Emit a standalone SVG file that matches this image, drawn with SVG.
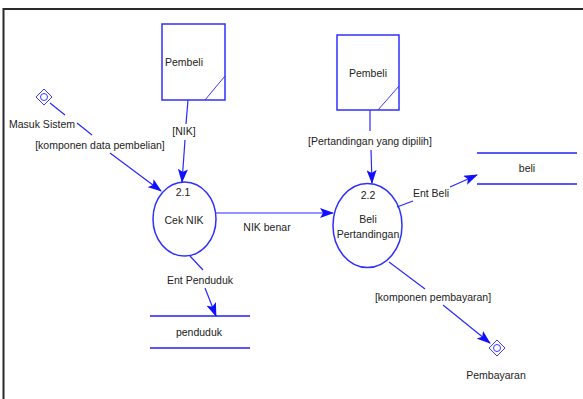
<svg xmlns="http://www.w3.org/2000/svg" width="583" height="399" viewBox="0 0 583 399">
  <style>
    .frame { fill: none; stroke: #2a2a2a; stroke-width: 2; }
    .shape { fill: #ffffff; stroke: #2f2fff; stroke-width: 1.5; }
    .thin { fill: none; stroke: #3a3aff; stroke-width: 1; }
    .flow { fill: none; stroke: #2828ff; stroke-width: 1.2; }
    .store { stroke: #1f1fff; stroke-width: 1.5; }
    text { font-family: "Liberation Sans", Arial, sans-serif; font-size: 10.5px; fill: #222222; text-anchor: middle; }
  </style>
  <defs>
    <marker id="arrow" viewBox="0 0 14 10" refX="13" refY="5" markerWidth="14" markerHeight="10" markerUnits="userSpaceOnUse" orient="auto">
      <path d="M0,0 L14,5 L0,10 L3,5 Z" fill="#1010ff"/>
    </marker>
  </defs>

  <rect width="583" height="399" fill="#ffffff"/>
  <path class="frame" d="M3.5,399 V9 H583"/>

  <!-- external entities -->
  <g id="pembeli-1">
    <rect class="shape" x="162" y="24" width="63" height="76"/>
    <line class="thin" x1="205" y1="100" x2="225" y2="76"/>
    <text x="184" y="66">Pembeli</text>
  </g>
  <g id="pembeli-2">
    <rect class="shape" x="337" y="35" width="62" height="75"/>
    <line class="thin" x1="378" y1="110" x2="399" y2="86"/>
    <text x="368" y="77">Pembeli</text>
  </g>

  <!-- processes -->
  <g id="proc-2-1">
    <ellipse class="shape" cx="184.5" cy="219" rx="31.5" ry="37"/>
    <text x="183" y="196">2.1</text>
    <text x="184" y="224">Cek NIK</text>
  </g>
  <g id="proc-2-2">
    <ellipse class="shape" cx="367.5" cy="225.5" rx="34.5" ry="42"/>
    <text x="368" y="199">2.2</text>
    <text x="368" y="223">Beli</text>
    <text x="368" y="238">Pertandingan</text>
  </g>

  <!-- data stores -->
  <g id="store-penduduk">
    <line class="store" x1="150" y1="316" x2="250" y2="316"/>
    <line class="store" x1="150" y1="348" x2="250" y2="348"/>
    <text x="199" y="336">penduduk</text>
  </g>
  <g id="store-beli">
    <line class="store" x1="477" y1="153" x2="577" y2="153"/>
    <line class="store" x1="477" y1="184" x2="577" y2="184"/>
    <text x="527" y="172">beli</text>
  </g>

  <!-- terminators -->
  <g id="masuk-sistem">
    <path class="thin" d="M44,89 L52,97 L44,105 L36,97 Z"/>
    <circle class="thin" cx="44" cy="97" r="3.5"/>
    <text x="42" y="128">Masuk Sistem</text>
  </g>
  <g id="pembayaran">
    <path class="thin" d="M497,340 L505,348 L497,356 L489,348 Z"/>
    <circle class="thin" cx="497" cy="348" r="3.5"/>
    <text x="496" y="379">Pembayaran</text>
  </g>

  <!-- connectors -->
  <g id="connectors">
    <path class="flow" d="M50,103 L65,115 M77,123 L92,135"/>
    <path class="flow" d="M110,153 L161,191" marker-end="url(#arrow)"/>
    <text x="100" y="149">[komponen data pembelian]</text>

    <path class="flow" d="M188,100 L186,124"/>
    <path class="flow" d="M185,140 L182,182" marker-end="url(#arrow)"/>
    <text x="184" y="135">[NIK]</text>

    <path class="flow" d="M216,213 L333,213" marker-end="url(#arrow)"/>
    <text x="267" y="231">NIK benar</text>

    <path class="flow" d="M190,256 L203,270"/>
    <path class="flow" d="M205,288 L216,316" marker-end="url(#arrow)"/>
    <text x="200" y="284">Ent Penduduk</text>

    <path class="flow" d="M370,110 L370,131"/>
    <path class="flow" d="M371,150 L372,183" marker-end="url(#arrow)"/>
    <text x="370" y="145">[Pertandingan yang dipilih]</text>

    <path class="flow" d="M397,207 L413,201"/>
    <path class="flow" d="M450,187 L477,175" marker-end="url(#arrow)"/>
    <text x="431" y="197">Ent Beli</text>

    <path class="flow" d="M389,262 L425,289"/>
    <path class="flow" d="M443,305 L490,343" marker-end="url(#arrow)"/>
    <text x="433" y="301">[komponen pembayaran]</text>
  </g>
</svg>
